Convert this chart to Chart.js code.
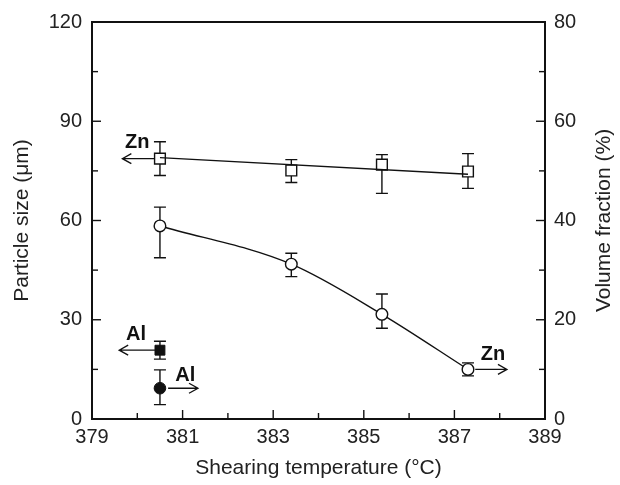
<!DOCTYPE html>
<html>
<head>
<meta charset="utf-8">
<script src="https://cdn.jsdelivr.net/npm/chart.js@4.4.1/dist/chart.umd.min.js"></script>
<style>
  body { margin: 0; background: #fff; }
</style>
</head>
<body>
<canvas id="chart" width="620" height="485"></canvas>
<script>
// Shearing temperature (x) for each measured point
const znTemp = [380.5, 383.4, 385.4, 387.3];
const alTemp = [380.5];

// Zn particle size (left axis, um) with error bar ends
const znSize = [78.7, 75.1, 76.9, 74.8];
const znSizeHigh = [83.8, 78.4, 79.9, 80.2];
const znSizeLow = [73.6, 71.5, 68.2, 69.7];
// straight trend line through the size data
const znSizeFitTemp = [380.5, 387.3];
const znSizeFit = [79.0, 74.0];

// Zn volume fraction (right axis, %) with error bar ends
const znFrac = [38.9, 31.2, 21.1, 10.0];
const znFracHigh = [42.7, 33.4, 25.2, 11.3];
const znFracLow = [32.5, 28.7, 18.3, 8.7];

// Al reference points
const alSize = [20.8];
const alSizeHigh = [23.5];
const alSizeLow = [18.1];
const alFrac = [6.2];
const alFracHigh = [9.9];
const alFracLow = [2.9];

// axis ranges / tick steps
const xRange = [379, 389], xStep = 2;
const yRange = [0, 120], yStep = 30;
const y1Range = [0, 80], y1Step = 20;
const rightTitle = 'Volume fraction (%)';

const pts = (xs, ys) => xs.map((x, i) => ({ x: x, y: ys[i] }));

// error bars to draw: x values, low, high, axis
const errorSets = [
  { xs: znTemp, lo: znSizeLow, hi: znSizeHigh, axis: 'y' },
  { xs: znTemp, lo: znFracLow, hi: znFracHigh, axis: 'y1' },
  { xs: alTemp, lo: alSizeLow, hi: alSizeHigh, axis: 'y' },
  { xs: alTemp, lo: alFracLow, hi: alFracHigh, axis: 'y1' },
];

// arrow labels telling which axis a series belongs to
const notes = [
  { text: 'Zn', axis: 'y', tx: 380.0, ty: 83.5, from: 380.37, to: 379.67, ay: 78.7 },
  { text: 'Al', axis: 'y', tx: 379.97, ty: 25.6, from: 380.39, to: 379.6, ay: 20.8 },
  { text: 'Al', axis: 'y1', tx: 381.06, ty: 8.7, from: 380.68, to: 381.34, ay: 6.2 },
  { text: 'Zn', axis: 'y1', tx: 387.85, ty: 13.1, from: 387.46, to: 388.16, ay: 10.0 },
];

const FONT = '"Liberation Sans", Arial, Helvetica, sans-serif';
Chart.defaults.font.family = FONT;
Chart.defaults.color = '#222';

const errorBars = {
  id: 'errorBars',
  beforeDatasetsDraw(chart) {
    const ctx = chart.ctx, xs = chart.scales.x;
    ctx.save();
    ctx.strokeStyle = '#111';
    ctx.lineWidth = 1.4;
    errorSets.forEach(set => {
      const ys = chart.scales[set.axis];
      set.xs.forEach((x, i) => {
        const px = xs.getPixelForValue(x);
        const top = ys.getPixelForValue(set.hi[i]);
        const bot = ys.getPixelForValue(set.lo[i]);
        ctx.beginPath();
        ctx.moveTo(px, top); ctx.lineTo(px, bot);
        ctx.moveTo(px - 6, top); ctx.lineTo(px + 6, top);
        ctx.moveTo(px - 6, bot); ctx.lineTo(px + 6, bot);
        ctx.stroke();
      });
    });
    ctx.restore();
  }
};

const frame = {
  id: 'frame',
  afterDraw(chart) {
    const ctx = chart.ctx, a = chart.chartArea;
    const x = chart.scales.x, y = chart.scales.y, y1 = chart.scales.y1;
    ctx.save();
    ctx.strokeStyle = '#111';
    ctx.lineWidth = 1.4;
    // inward ticks, major + one minor between
    for (let v = xRange[0]; v <= xRange[1] + 1e-9; v += xStep / 2) {
      const px = x.getPixelForValue(v);
      const len = Math.round((v - xRange[0]) / (xStep / 2)) % 2 === 0 ? 9 : 6;
      ctx.beginPath(); ctx.moveTo(px, a.bottom); ctx.lineTo(px, a.bottom - len); ctx.stroke();
    }
    for (let v = yRange[0]; v <= yRange[1] + 1e-9; v += yStep / 2) {
      const py = y.getPixelForValue(v);
      const len = Math.round(v / (yStep / 2)) % 2 === 0 ? 9 : 6;
      ctx.beginPath(); ctx.moveTo(a.left, py); ctx.lineTo(a.left + len, py); ctx.stroke();
    }
    for (let v = y1Range[0]; v <= y1Range[1] + 1e-9; v += y1Step / 2) {
      const py = y1.getPixelForValue(v);
      const len = Math.round(v / (y1Step / 2)) % 2 === 0 ? 9 : 6;
      ctx.beginPath(); ctx.moveTo(a.right, py); ctx.lineTo(a.right - len, py); ctx.stroke();
    }
    ctx.lineWidth = 2;
    ctx.strokeRect(a.left, a.top, a.right - a.left, a.bottom - a.top);

    // right axis title, reading bottom to top like the left one
    ctx.save();
    ctx.fillStyle = '#222';
    ctx.font = '21px ' + FONT;
    ctx.textAlign = 'center';
    ctx.textBaseline = 'middle';
    ctx.translate(y1.right - 16, (a.top + a.bottom) / 2);
    ctx.rotate(-Math.PI / 2);
    ctx.fillText(rightTitle, 0, 0);
    ctx.restore();

    // arrow notes
    ctx.lineWidth = 1.3;
    ctx.fillStyle = '#111';
    ctx.font = 'bold 20px ' + FONT;
    ctx.textAlign = 'center';
    ctx.textBaseline = 'middle';
    notes.forEach(n => {
      const ys = chart.scales[n.axis];
      ctx.fillText(n.text, x.getPixelForValue(n.tx), ys.getPixelForValue(n.ty));
      const x0 = x.getPixelForValue(n.from), x1 = x.getPixelForValue(n.to);
      const py = ys.getPixelForValue(n.ay);
      const dir = x1 > x0 ? 1 : -1;
      ctx.beginPath();
      ctx.moveTo(x0, py); ctx.lineTo(x1, py);
      ctx.moveTo(x1 - dir * 9, py - 5); ctx.lineTo(x1, py); ctx.lineTo(x1 - dir * 9, py + 5);
      ctx.stroke();
    });
    ctx.restore();
  }
};

new Chart(document.getElementById('chart'), {
  type: 'line',
  data: {
    datasets: [
      {
        data: pts(znSizeFitTemp, znSizeFit), yAxisID: 'y',
        borderColor: '#111', borderWidth: 1.4, pointRadius: 0
      },
      {
        data: pts(znTemp, znSize), yAxisID: 'y', showLine: false,
        pointStyle: 'rect', pointRadius: 7.6, pointBackgroundColor: '#fff',
        pointBorderColor: '#111', pointBorderWidth: 1.4
      },
      {
        data: pts(znTemp, znFrac), yAxisID: 'y1',
        borderColor: '#111', borderWidth: 1.4, cubicInterpolationMode: 'monotone',
        pointStyle: 'circle', pointRadius: 5.8, pointBackgroundColor: '#fff',
        pointBorderColor: '#111', pointBorderWidth: 1.4
      },
      {
        data: pts(alTemp, alSize), yAxisID: 'y', showLine: false,
        pointStyle: 'rect', pointRadius: 7, pointBackgroundColor: '#111',
        pointBorderColor: '#111', pointBorderWidth: 1
      },
      {
        data: pts(alTemp, alFrac), yAxisID: 'y1', showLine: false,
        pointStyle: 'circle', pointRadius: 5.8, pointBackgroundColor: '#111',
        pointBorderColor: '#111', pointBorderWidth: 1
      }
    ]
  },
  options: {
    responsive: false,
    animation: false,
    layout: { padding: { top: 19, left: 0, right: 0, bottom: 0 } },
    plugins: { legend: { display: false }, tooltip: { enabled: false } },
    scales: {
      x: {
        type: 'linear', min: xRange[0], max: xRange[1],
        grid: { display: false, drawTicks: false }, border: { display: false },
        ticks: { stepSize: xStep, padding: 6, font: { size: 20 }, color: '#222' },
        title: { display: true, text: 'Shearing temperature (\u00b0C)', font: { size: 21 }, color: '#222', padding: { top: 0, bottom: 4 } },
        afterFit: s => { s.height = 66; }
      },
      y: {
        position: 'left', min: yRange[0], max: yRange[1],
        grid: { display: false, drawTicks: false }, border: { display: false },
        ticks: { stepSize: yStep, padding: 10, font: { size: 20 }, color: '#222' },
        title: { display: true, text: 'Particle size (\u03bcm)', font: { size: 21 }, color: '#222', padding: { top: 10, bottom: 0 } },
        afterFit: s => { s.width = 92; }
      },
      y1: {
        position: 'right', min: y1Range[0], max: y1Range[1],
        grid: { display: false, drawTicks: false }, border: { display: false },
        ticks: { stepSize: y1Step, padding: 9, font: { size: 20 }, color: '#222' },
        title: { display: false },
        afterFit: s => { s.width = 75; }
      }
    }
  },
  plugins: [errorBars, frame]
});
</script>
</body>
</html>
